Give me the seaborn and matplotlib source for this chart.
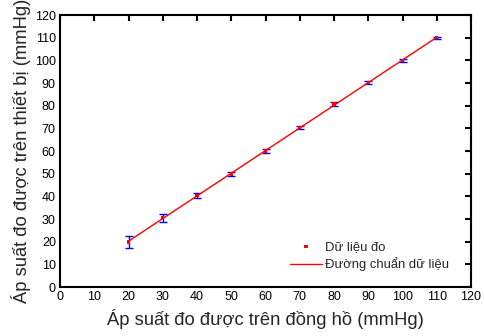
import numpy as np
import pandas as pd
import matplotlib
matplotlib.use("Agg")
import matplotlib.pyplot as plt
import seaborn as sns

gauge = [20, 30, 40, 50, 60, 70, 80, 90, 100, 110]
device = [19.8, 30.6, 40.4, 49.8, 60.0, 70.4, 80.7, 90.2, 99.9, 110.0]
err = [2.5, 1.8, 1.2, 0.8, 0.7, 0.6, 0.8, 0.7, 0.7, 0.4]
ticks = list(range(0, 121, 10))

sns.set_theme(style="white")
plt.rcParams['font.family'] = ['Liberation Sans', 'DejaVu Sans']

df = pd.DataFrame({"x": gauge, "y": device, "e": err})
slope, inter = np.polyfit(df.x, df.y, 1)
fit = pd.DataFrame({"x": [df.x.min(), df.x.max()]})
fit["y"] = slope * fit.x + inter

fig = plt.figure(figsize=(4.84, 3.36), dpi=100)
ax = fig.add_axes([60/484, 1 - 287/336, 411/484, 272/336])

ax.errorbar(df.x, df.y, yerr=df.e, fmt="none", ecolor="blue", elinewidth=1.0,
            capsize=3, capthick=1.0, zorder=2)
sns.lineplot(data=fit, x="x", y="y", ax=ax, color="red", linewidth=1.0,
             label="Đường chuẩn dữ liệu", zorder=3)
sns.scatterplot(data=df, x="x", y="y", ax=ax, color="red", s=6, marker="s",
                edgecolor="none", label="Dữ liệu đo", zorder=4)

ax.set_xlim(0, 120)
ax.set_ylim(0, 120)
ax.set_xticks(ticks)
ax.set_yticks(ticks)
ax.tick_params(direction="in", length=4, width=1.5, top=True, right=True,
               labelsize=9, pad=3, colors="black")
for s in ax.spines.values():
    s.set_linewidth(1.5)
    s.set_color("black")
ax.set_xlabel("Áp suất đo được trên đồng hồ (mmHg)", fontsize=13.2, labelpad=4)
ax.set_ylabel("Áp suất đo được trên thiết bị (mmHg)", fontsize=13.2, labelpad=3)

h, l = ax.get_legend_handles_labels()
order = [l.index("Dữ liệu đo"), l.index("Đường chuẩn dữ liệu")]
ax.legend([h[i] for i in order], [l[i] for i in order], frameon=False,
          fontsize=9.4, loc="lower right", bbox_to_anchor=(0.975, 0.015),
          handlelength=2.4, handletextpad=0.25, labelspacing=0.35)

fig.savefig("out.png", dpi=100)
